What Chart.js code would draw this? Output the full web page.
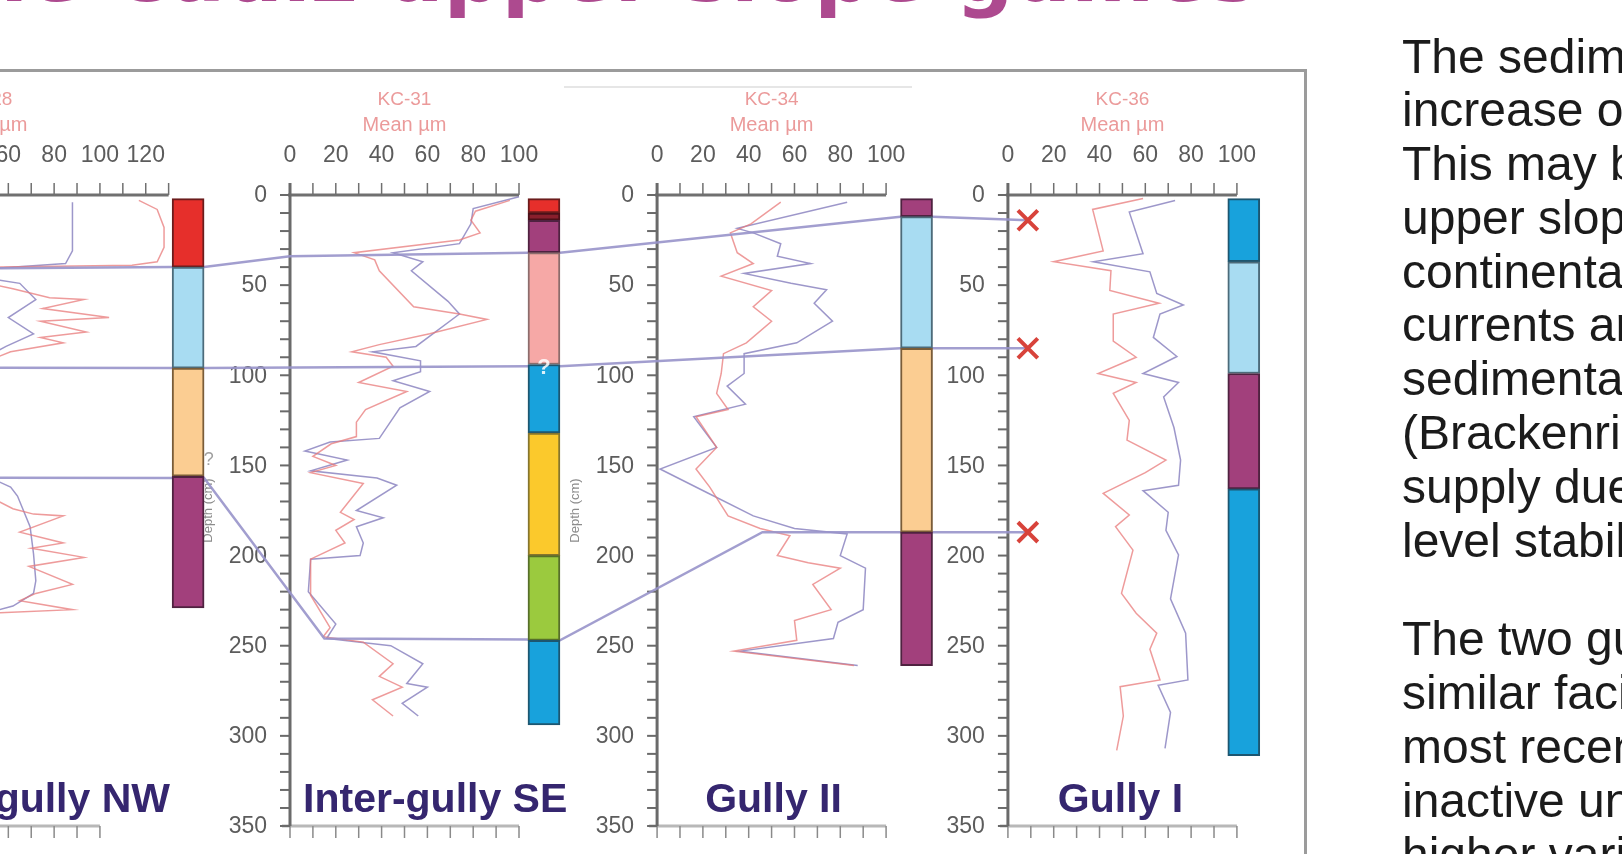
<!DOCTYPE html>
<html>
<head>
<meta charset="utf-8">
<script src="https://cdn.jsdelivr.net/npm/chart.js@4.4.1/dist/chart.umd.min.js"></script>
<style>
    html, body { margin: 0; padding: 0; background: #fff; overflow: hidden; }
    #page { position: relative; width: 1622px; height: 854px; overflow: hidden; background: #fff; }
    #chartBox { position: absolute; left: 0; top: 0; width: 1622px; height: 854px; }
    #frame { position: absolute; left: -10px; top: 69px; width: 1314px; height: 820px;
             border-top: 3px solid #9b9b9b; border-right: 3px solid #9b9b9b; }
    #faint { position: absolute; left: 564px; top: 86px; width: 348px; height: 0; border-top: 2px solid #e6e6e6; }
    #title { position: absolute; left: 386px; top: -67px; font: bold 81px "DejaVu Sans", sans-serif;
             line-height: 81px; color: #ad4a8f; white-space: nowrap; }
    #title span { position: absolute; right: 100%; top: 0; white-space: pre; }
    #notes { position: absolute; left: 1402px; top: 29.5px; font: 48px "Liberation Sans", Arial, sans-serif;
             line-height: 53.8px; color: #1b1b1b; white-space: nowrap; }
    #notes p { margin: 0 0 45px 0; }
</style>
</head>
<body>
<div id="page">
    <div id="chartBox"><canvas id="coreChart"></canvas></div>
    <div id="frame"></div>
    <div id="faint"></div>
    <div id="title"><span>Facies of the Cadiz </span>upper slope gullies</div>
    <div id="notes">
        <p>The sediments show an overall<br>increase of grain size upwards.<br>This may be related to the<br>upper slope location, near the<br>continental shelf, where bottom<br>currents are strong and<br>sedimentation rates are low<br>(Brackenridge et al., 2011) or<br>supply due to the Holocene sea<br>level stabilization.</p>
        <p>The two gullies show<br>similar facies, but the<br>most recent unit is<br>inactive under a<br>higher variability</p>
    </div>
</div>
<script>
// tick labels
const depthTicks = [0, 50, 100, 150, 200, 250, 300, 350];
const meanTicks = [0, 20, 40, 60, 80, 100];
const meanTicksWide = [0, 20, 40, 60, 80, 100, 120];

const panelNames = ['Inter-gully NW', 'Inter-gully SE', 'Gully II', 'Gully I'];
const coreNames = ['KC-28', 'KC-31', 'KC-34', 'KC-36'];

// core 1 - inter-gully NW
const p1RedDepth = [3, 8, 18, 29, 37, 39, 40, 41, 46, 52, 57, 58, 63, 68, 70, 76, 79, 82, 87, 95, 115, 140, 165, 174, 177, 178, 187, 193, 196, 201, 206, 216, 221, 225, 230, 232];
const p1RedMean = [117, 125, 128, 128, 125, 114, 56, 30, 40, 62, 78, 93, 75, 104, 74, 94, 74, 84, 61, 45, 35, 30, 48, 62, 71, 84, 65, 84, 70, 93, 69, 88, 72, 65, 88, 50];
const p1BlueDepth = [4, 31, 38, 40.5, 43, 49, 58, 68, 77, 84, 90, 120, 150, 162, 167, 184, 199, 214, 221, 228, 232];
const p1BlueMean = [88, 88, 85, 56, 35, 65, 72, 60, 71, 59, 50, 30, 40, 61, 64, 69.5, 71, 72, 71, 62, 50];

// core 2 - inter-gully SE
const p2RedDepth = [3, 9, 14, 21, 25, 32, 36, 42, 62, 66, 69, 77, 83, 87, 90, 95, 104, 109, 119, 126, 134, 138, 145, 150, 154, 160, 176, 180, 186, 193, 202, 222, 240, 245, 248, 260, 267, 273, 280, 289];
const p2RedMean = [96, 81, 79, 83, 74, 28, 37, 39, 54, 74, 86, 61, 39, 27, 42, 45, 30, 51, 33, 29, 29, 18, 10, 20, 9, 32, 22, 28, 20, 24, 9, 9, 17.5, 14.5, 32, 45, 39, 49, 36, 45];
const p2BlueDepth = [1, 7.5, 16, 27, 32, 37, 42, 59, 66, 84, 87, 92, 98, 103, 109, 118, 135, 137, 142, 147, 153, 157, 161, 175, 179, 184, 193, 200, 202, 220, 238, 246, 250, 260, 271, 273, 282, 289];
const p2BlueMean = [100, 80, 79, 74, 45, 58, 53, 69, 74, 55, 36, 57, 57, 45, 61, 48, 39, 17.5, 6.5, 25, 9, 38, 46.6, 29, 40.7, 29, 32, 30.6, 9, 8, 20, 16, 44, 58, 51, 60, 49, 56];

// core 3 - gully II
const p3RedDepth = [4, 16, 21, 32, 38, 45, 53, 62, 70, 82, 88, 99, 110, 119, 123, 140, 152, 162, 178, 185, 189, 200, 204, 207, 216, 230, 236, 247, 253, 261];
const p3RedMean = [54, 41, 32, 35, 42, 28, 50, 42, 50, 39, 29, 28, 26, 31, 17, 26, 17, 23, 31, 45, 58, 52.5, 66, 80, 68, 76, 60, 61, 33.5, 86];
const p3BlueDepth = [4, 18.5, 21, 27, 34, 38, 43.5, 49, 52.6, 60, 70, 82, 88, 99, 106, 116, 123, 140, 152, 165, 178, 185, 188, 200, 207, 230, 237, 246, 253, 261];
const p3BlueMean = [83, 35, 42, 54, 52.5, 67, 38, 58.5, 74, 68.6, 76.6, 61, 38, 38, 30.6, 38.6, 16, 26, 1.3, 21.7, 42, 60, 83, 80, 91, 90, 79, 77, 36.4, 87.6];

// core 4 - gully I
const p4RedDepth = [2, 8, 31, 37, 42, 53, 60, 66, 81, 90, 99, 104, 110, 125, 136, 147, 154, 165.5, 177.5, 184, 197, 221, 232, 243, 252, 269, 272.7, 289, 308];
const p4RedMean = [59, 37, 41.6, 20, 45, 44.5, 66, 46, 46, 56, 39.4, 56, 46, 53, 52, 69, 60, 41.6, 53, 47, 54.6, 49.6, 56, 65, 62, 66.4, 49, 50.4, 47.5];
const p4BlueDepth = [3, 9.5, 32.6, 37, 42.6, 54.6, 61, 66, 79, 89.6, 99, 104, 112, 129, 147, 161, 164, 176, 186, 199.6, 224, 243, 269, 272, 287, 307];
const p4BlueMean = [73, 53, 59, 37.3, 62, 65, 76.6, 66.4, 63.5, 73.8, 59, 74.5, 68, 72.5, 75.4, 74.5, 59, 70, 69, 74.5, 71, 77.6, 78.6, 65.6, 71, 68.6];

// facies units (top, base in cm)
const p1FaciesTop = [2, 40, 96, 156];
const p1FaciesBase = [40, 96, 156, 229];
const p1FaciesType = ['red', 'lightblue', 'peach', 'purple'];
const p2FaciesTop = [2, 10, 14, 32, 94, 132, 200, 247];
const p2FaciesBase = [10, 14, 32, 94, 132, 200, 247, 294];
const p2FaciesType = ['red', 'maroon', 'purple', 'pink', 'blue', 'yellow', 'green', 'blue'];
const p3FaciesTop = [2, 12, 85, 187];
const p3FaciesBase = [12, 85, 187, 261];
const p3FaciesType = ['purple', 'lightblue', 'peach', 'purple'];
const p4FaciesTop = [2, 37, 99, 163];
const p4FaciesBase = [37, 99, 163, 311];
const p4FaciesType = ['blue', 'lightblue', 'purple', 'blue'];

// correlated boundaries along the tie lines (cm)
const tieA = [41.5, 40, 40, 34, 32, 32, 12, 12, 14];
const tieB = [95.5, 96, 96, 95, 95, 85, 85, 85];
const tieC = [156.5, 157, 157, 246, 246.5, 247, 187, 187, 187, 187];
const markDepths = [14, 85, 187];

// ---- layout (not data) ----
const pxPerUnit = 2.29;
const zeroPx = 290;                       // pixel of panel 2's 0
const panelOffsets = [-183, 0, 160.3, 313.5];
const axisMax = [130, 100, 100, 100];
const colCenter = [138.5, 110.9, 113.3, 103];
const colHalf = 7;
const markValue = 8.7;
const labelAnchor = [[130.6, 'right'], [5.7, 'left'], [21, 'left'], [21.8, 'left']];
const routeA = [[0, -60], [0, 'L'], [0, 'R'], [1, 0], [1, 'L'], [1, 'R'], [2, 'L'], [2, 'R'], [3, markValue]];
const routeB = [[0, -60], [0, 'L'], [0, 'R'], [1, 'L'], [1, 'R'], [2, 'L'], [2, 'R'], [3, markValue]];
const routeC = [[0, -60], [0, 'L'], [0, 'R'], [1, 15], [1, 'L'], [1, 'R'], [2, 46], [2, 'L'], [2, 'R'], [3, markValue]];

const faciesStyle = {
    red:       { fill: '#e62f2b', border: '#6b1c1c' },
    maroon:    { fill: '#8a1f2c', border: '#4a1018' },
    purple:    { fill: '#a2407c', border: '#4f2240' },
    pink:      { fill: '#f6a8a6', border: '#8c6c6c' },
    lightblue: { fill: '#a8dcf2', border: '#4c6b7a' },
    peach:     { fill: '#fbcd92', border: '#7a5c38' },
    blue:      { fill: '#18a2dc', border: '#1d5670' },
    yellow:    { fill: '#fbc92c', border: '#85752e' },
    green:     { fill: '#9bca3e', border: '#566f2a' }
};

function curve(panel, means, depths) {
    return means.map((m, i) => ({ x: panelOffsets[panel] + m, y: depths[i] }));
}

function routeX(step) {
    const p = step[0], v = step[1];
    if (v === 'L') return panelOffsets[p] + colCenter[p] - colHalf;
    if (v === 'R') return panelOffsets[p] + colCenter[p] + colHalf;
    return panelOffsets[p] + v;
}

function tie(route, depths) {
    return route.map((step, i) => ({ x: routeX(step), y: depths[i] }));
}

// facies columns as floating bars
const faciesBars = [];
const faciesFill = [];
const faciesBorder = [];
[[p1FaciesTop, p1FaciesBase, p1FaciesType],
 [p2FaciesTop, p2FaciesBase, p2FaciesType],
 [p3FaciesTop, p3FaciesBase, p3FaciesType],
 [p4FaciesTop, p4FaciesBase, p4FaciesType]].forEach(([tops, bases, types], p) => {
    tops.forEach((t, i) => {
        faciesBars.push({ x: panelOffsets[p] + colCenter[p], y: [t, bases[i]] });
        faciesFill.push(faciesStyle[types[i]].fill);
        faciesBorder.push(faciesStyle[types[i]].border);
    });
});

const redLine = 'rgba(232, 122, 122, 0.75)';
const blueLine = 'rgba(124, 116, 184, 0.75)';
const tieColor = 'rgba(152, 147, 202, 0.9)';

function curveSet(data, color) {
    return { type: 'line', data: data, borderColor: color, borderWidth: 1.5, pointRadius: 0, tension: 0, fill: false, order: 2 };
}

function tieSet(data) {
    return { type: 'line', data: data, borderColor: tieColor, borderWidth: 2.5, pointRadius: 0, tension: 0, fill: false, order: 1 };
}

// axes for each core panel
const coreAxes = {
    id: 'coreAxes',
    beforeDatasetsDraw(chart) {
        const { ctx, scales: { x, y } } = chart;
        const yTop = y.getPixelForValue(0);
        const yBot = y.getPixelForValue(350);
        ctx.save();
        panelOffsets.forEach((off, i) => {
            const x0 = x.getPixelForValue(off);
            const x1 = x.getPixelForValue(off + axisMax[i]);
            const xb = x.getPixelForValue(off + 100);

            // bottom axis
            ctx.strokeStyle = '#b8b8b8';
            ctx.lineWidth = 3;
            ctx.beginPath();
            ctx.moveTo(x0 - 8, yBot);
            ctx.lineTo(xb, yBot);
            ctx.stroke();
            ctx.strokeStyle = '#8a8a8a';
            ctx.lineWidth = 1.5;
            for (let v = 0; v <= 100; v += 10) {
                const px = x.getPixelForValue(off + v);
                ctx.beginPath();
                ctx.moveTo(px, yBot);
                ctx.lineTo(px, yBot + 12);
                ctx.stroke();
            }

            // top axis
            ctx.strokeStyle = '#707070';
            ctx.lineWidth = 3;
            ctx.beginPath();
            ctx.moveTo(x0 - 2, yTop);
            ctx.lineTo(x1, yTop);
            ctx.stroke();
            ctx.lineWidth = 1.5;
            for (let v = 0; v <= axisMax[i]; v += 10) {
                const px = x.getPixelForValue(off + v);
                ctx.beginPath();
                ctx.moveTo(px, yTop);
                ctx.lineTo(px, yTop - 12);
                ctx.stroke();
            }
            ctx.fillStyle = '#5c5c5c';
            ctx.font = '23px "Liberation Sans", Arial, sans-serif';
            ctx.textAlign = 'center';
            ctx.textBaseline = 'alphabetic';
            (i === 0 ? meanTicksWide : meanTicks).forEach(v => {
                ctx.fillText(String(v), x.getPixelForValue(off + v), yTop - 33);
            });

            // depth axis
            ctx.strokeStyle = '#6a6a6a';
            ctx.lineWidth = 3;
            ctx.beginPath();
            ctx.moveTo(x0, yTop - 12);
            ctx.lineTo(x0, yBot);
            ctx.stroke();
            ctx.lineWidth = 2;
            for (let d = 0; d <= 350; d += 10) {
                const py = y.getPixelForValue(d);
                ctx.beginPath();
                ctx.moveTo(x0 - 10, py);
                ctx.lineTo(x0, py);
                ctx.stroke();
            }
            ctx.textAlign = 'right';
            ctx.textBaseline = 'middle';
            depthTicks.forEach(d => {
                ctx.fillText(String(d), x0 - 23, y.getPixelForValue(d) + 1);
            });

            // depth title
            ctx.save();
            ctx.translate(x0 - 82, y.getPixelForValue(175));
            ctx.rotate(-Math.PI / 2);
            ctx.textAlign = 'center';
            ctx.fillStyle = '#8c8c8c';
            ctx.font = '13px "Liberation Sans", Arial, sans-serif';
            ctx.fillText('Depth (cm)', 0, 0);
            ctx.restore();

            // core name and variable
            const xc = x.getPixelForValue(off + 50);
            ctx.textAlign = 'center';
            ctx.fillStyle = 'rgba(222, 86, 86, 0.6)';
            ctx.font = '19px "Liberation Sans", Arial, sans-serif';
            ctx.fillText(coreNames[i], xc, yTop - 95);
            ctx.font = '20px "Liberation Sans", Arial, sans-serif';
            ctx.fillText('Mean \u00b5m', xc, yTop - 70);

            // panel name
            ctx.fillStyle = '#35266f';
            ctx.font = 'bold 41px "Liberation Sans", Arial, sans-serif';
            ctx.textAlign = labelAnchor[i][1];
            ctx.textBaseline = 'alphabetic';
            ctx.fillText(panelNames[i], x.getPixelForValue(off + labelAnchor[i][0]), y.getPixelForValue(342));
        });
        ctx.restore();
    },
    afterDatasetsDraw(chart) {
        const { ctx, scales: { x, y } } = chart;
        ctx.save();
        ctx.textAlign = 'center';
        ctx.textBaseline = 'middle';
        ctx.font = 'bold 22px "Liberation Sans", Arial, sans-serif';
        ctx.fillStyle = 'rgba(255, 255, 255, 0.85)';
        ctx.fillText('?', x.getPixelForValue(panelOffsets[1] + colCenter[1]), y.getPixelForValue(96));
        ctx.font = '18px "Liberation Sans", Arial, sans-serif';
        ctx.fillStyle = '#a0a0a0';
        ctx.fillText('?', x.getPixelForValue(panelOffsets[0] + colCenter[0] + 9), y.getPixelForValue(147));
        ctx.restore();
    }
};

document.addEventListener('DOMContentLoaded', function() {
    const canvas = document.getElementById('coreChart');
    new Chart(canvas, {
        type: 'line',
        data: {
            datasets: [
                curveSet(curve(0, p1RedMean, p1RedDepth), redLine),
                curveSet(curve(0, p1BlueMean, p1BlueDepth), blueLine),
                curveSet(curve(1, p2RedMean, p2RedDepth), redLine),
                curveSet(curve(1, p2BlueMean, p2BlueDepth), blueLine),
                curveSet(curve(2, p3RedMean, p3RedDepth), redLine),
                curveSet(curve(2, p3BlueMean, p3BlueDepth), blueLine),
                curveSet(curve(3, p4RedMean, p4RedDepth), redLine),
                curveSet(curve(3, p4BlueMean, p4BlueDepth), blueLine),
                tieSet(tie(routeA, tieA)),
                tieSet(tie(routeB, tieB)),
                tieSet(tie(routeC, tieC)),
                {
                    type: 'bar',
                    data: faciesBars,
                    backgroundColor: faciesFill,
                    borderColor: faciesBorder,
                    borderWidth: 2,
                    borderSkipped: false,
                    barThickness: 32,
                    order: 0
                },
                {
                    type: 'line',
                    data: markDepths.map(d => ({ x: panelOffsets[3] + markValue, y: d })),
                    showLine: false,
                    pointStyle: 'crossRot',
                    pointRadius: 14,
                    pointBorderWidth: 4,
                    pointBorderColor: '#d8433b',
                    order: 0
                }
            ]
        },
        options: {
            responsive: true,
            maintainAspectRatio: false,
            animation: false,
            devicePixelRatio: 1,
            events: [],
            layout: { autoPadding: false, padding: { left: 0, right: 322, top: 195, bottom: 28 } },
            scales: {
                x: { type: 'linear', min: -zeroPx / pxPerUnit, max: (1300 - zeroPx) / pxPerUnit, offset: false, display: false },
                y: { type: 'linear', min: 0, max: 350, reverse: true, display: false }
            },
            plugins: {
                legend: { display: false },
                tooltip: { enabled: false }
            }
        },
        plugins: [coreAxes]
    });
});
</script>
</body>
</html>
